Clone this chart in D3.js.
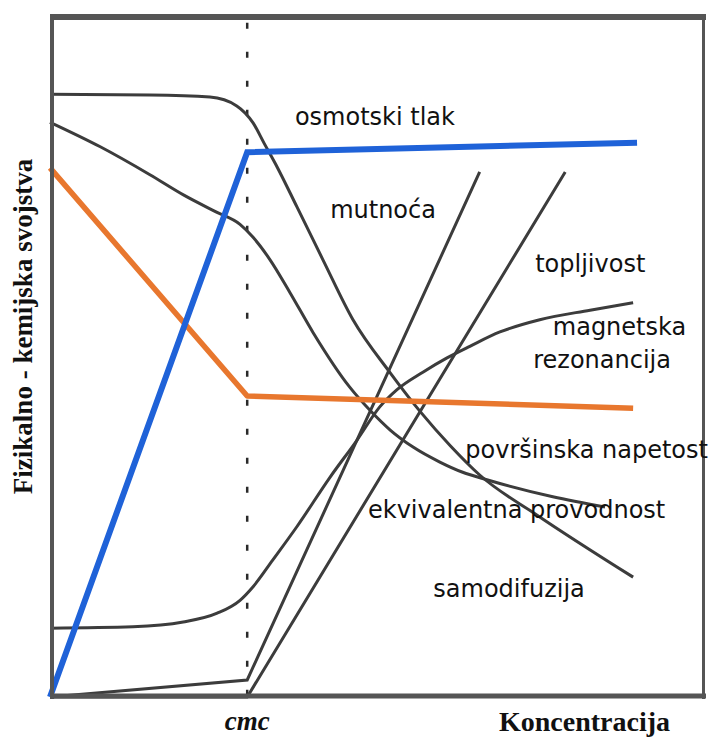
<!DOCTYPE html>
<html>
<head>
<meta charset="utf-8">
<script src="https://cdn.jsdelivr.net/npm/d3@7"></script>
<style>
  body { margin: 0; background: #fff; }
  .lbl { font-family: "DejaVu Sans", sans-serif; font-size: 24px; fill: #111; }
  .axt { font-family: "Liberation Serif", "Times New Roman", serif; font-weight: bold; fill: #111; }
</style>
</head>
<body>
<div id="chart"></div>
<script>
// values, x = concentration, y = property (both 0..100)
const cmc = 30.2;

const osmotskiTlak = [[0, 0], [30.2, 80.0], [89.9, 81.4]];
const povrsinskaNapetost = [[0, 77.7], [30.2, 44.2], [89.3, 42.4]];
const mutnoca = [[0, 0], [30.2, 2.5], [65.8, 77.1]];
const topljivost = [[0, 0], [30.2, 0], [78.9, 77.1]];
const magnetskaRezonancija = [
  [0, 10.1], [12.7, 10.3], [20.4, 11.0], [25.6, 12.3], [29.1, 14.2], [31.1, 16.2],
  [34.1, 20.1], [37.8, 25.0], [42.9, 32.3], [47.0, 37.7], [50.5, 42.6], [53.1, 45.1],
  [57.1, 47.7], [60.8, 49.8], [64.3, 51.5], [68.9, 53.6], [75.0, 55.4], [82.7, 56.8], [89.3, 57.9]
];
const samodifuzija = [
  [0, 88.5], [15.3, 88.4], [24.5, 88.1], [28.6, 86.8], [31.1, 84.3], [32.8, 81.3],
  [34.8, 77.8], [37.8, 72.0], [41.8, 64.2], [46.4, 55.4], [52.1, 47.6], [56.7, 41.9],
  [61.3, 36.9], [65.8, 32.6], [74.6, 26.7], [89.3, 17.6]
];
const ekvivalentnaProvodnost = [
  [0, 84.4], [7.7, 80.8], [15.3, 76.7], [20.5, 73.7], [25.5, 71.2],
  [29.1, 69.4], [31.1, 67.5], [33.7, 64.2], [36.8, 59.3], [40.3, 53.5], [45.9, 45.5],
  [49.0, 42.1], [52.1, 39.2], [55.6, 36.7], [59.7, 34.5], [63.2, 33.0], [66.9, 31.9],
  [77.0, 29.4], [85.0, 27.9]
];

const labelNames = ["osmotski tlak", "mutnoća", "topljivost", "magnetska", "rezonancija",
  "površinska napetost", "ekvivalentna provodnost", "samodifuzija"];
const labelAt = [[37.5, 84.0], [42.9, 70.3], [74.3, 62.4], [77.0, 53.2], [74.0, 48.3],
  [63.6, 35.1], [48.7, 26.3], [58.7, 14.7]];

const width = 708, height = 740;
const svg = d3.select('#chart').append('svg')
  .attr('width', width)
  .attr('height', height);

svg.append('rect').attr('width', width).attr('height', height).attr('fill', '#fff');

const x = d3.scaleLinear().domain([0, 100]).range([50, 703]);
const y = d3.scaleLinear().domain([0, 100]).range([697, 16]);

const straight = d3.line().x(d => x(d[0])).y(d => y(d[1]));
const smooth = d3.line().x(d => x(d[0])).y(d => y(d[1])).curve(d3.curveMonotoneX);

// cmc dashed marker
svg.append('line')
  .attr('x1', x(cmc)).attr('x2', x(cmc))
  .attr('y1', y(99)).attr('y2', y(0))
  .attr('stroke', '#2a2a2a')
  .attr('stroke-width', 2.5)
  .attr('stroke-dasharray', '6,23');

// black property curves
const grey = '#3c3c3c';
[magnetskaRezonancija, samodifuzija, ekvivalentnaProvodnost].forEach(s => {
  svg.append('path').datum(s)
    .attr('d', smooth)
    .attr('fill', 'none')
    .attr('stroke', grey)
    .attr('stroke-width', 3);
});
[mutnoca, topljivost].forEach(s => {
  svg.append('path').datum(s)
    .attr('d', straight)
    .attr('fill', 'none')
    .attr('stroke', grey)
    .attr('stroke-width', 3);
});

// coloured ones
svg.append('path').datum(povrsinskaNapetost)
  .attr('d', straight)
  .attr('fill', 'none')
  .attr('stroke', '#e8772e')
  .attr('stroke-width', 5.5)
  .attr('stroke-linejoin', 'round');

svg.append('path').datum(osmotskiTlak)
  .attr('d', straight)
  .attr('fill', 'none')
  .attr('stroke', '#1f62d8')
  .attr('stroke-width', 6);

// frame
const frame = '#555';
svg.append('line').attr('x1', 50).attr('x2', 706).attr('y1', 17).attr('y2', 17)
  .attr('stroke', frame).attr('stroke-width', 6);
svg.append('line').attr('x1', 52).attr('x2', 52).attr('y1', 14).attr('y2', 699)
  .attr('stroke', frame).attr('stroke-width', 4);
svg.append('line').attr('x1', 703.5).attr('x2', 703.5).attr('y1', 14).attr('y2', 699)
  .attr('stroke', frame).attr('stroke-width', 3);
svg.append('line').attr('x1', 50).attr('x2', 706).attr('y1', 696).attr('y2', 696)
  .attr('stroke', frame).attr('stroke-width', 5);

// curve labels
svg.selectAll('.lbl')
  .data(labelNames)
  .enter()
  .append('text')
  .attr('class', 'lbl')
  .attr('x', (d, i) => x(labelAt[i][0]))
  .attr('y', (d, i) => y(labelAt[i][1]))
  .text(d => d);

// axis titles
svg.append('text')
  .attr('class', 'axt')
  .attr('transform', `translate(32,${(y(0) + y(100)) / 2 - 30}) rotate(-90)`)
  .attr('text-anchor', 'middle')
  .style('font-size', '27px')
  .text('Fizikalno - kemijska svojstva');

svg.append('text')
  .attr('class', 'axt')
  .attr('x', x(cmc))
  .attr('y', 730)
  .attr('text-anchor', 'middle')
  .style('font-size', '27px')
  .style('font-style', 'italic')
  .text('cmc');

svg.append('text')
  .attr('class', 'axt')
  .attr('x', 499)
  .attr('y', 731)
  .style('font-size', '28px')
  .text('Koncentracija');
</script>
</body>
</html>
